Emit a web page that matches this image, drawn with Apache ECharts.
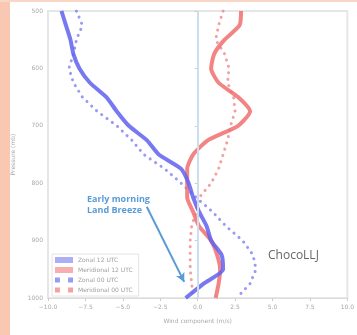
<!DOCTYPE html>
<html>
<head>
<meta charset="utf-8">
<script src="https://cdn.jsdelivr.net/npm/echarts@6/dist/echarts.min.js"></script>
<style>
  html, body { margin: 0; padding: 0; background: #ffffff; }
  #wrap { position: relative; width: 357px; height: 335px; background: #ffffff; overflow: hidden; }
  #edge { position: absolute; left: 0; top: 0; width: 10px; height: 335px; background: #f9c8b2; }
  #topedge { position: absolute; left: 0; top: 0; width: 357px; height: 2px; background: #f9d6c6; }
  #chart { position: absolute; left: 0; top: 0; width: 357px; height: 335px; }
</style>
</head>
<body>
<div id="wrap">
  <div id="edge"></div>
  <div id="topedge"></div>
  <div id="chart"></div>
</div>
<script>
// Pressure levels (hPa) for the wind profiles
const levels = [500, 525, 550, 575, 600, 625, 650, 675, 700, 725, 750, 775, 800, 825, 850, 875, 900, 925, 950, 975, 1000];

// Wind components (m/s) at each level
const zonal12 = [-9.1, -8.8, -8.5, -8.3, -7.9, -7.2, -6.1, -5.4, -4.6, -3.4, -2.6, -1.1, -0.6, -0.3, 0.1, 0.6, 0.9, 1.6, 1.7, 0.4, -0.8];
const merid12 = [2.9, 2.8, 1.8, 1.1, 0.9, 1.4, 2.7, 3.5, 2.7, 0.7, -0.3, -0.7, -0.7, -0.7, -0.3, 0.1, 0.9, 1.3, 1.5, 1.4, 1.2];
const zonal00 = [-8.1, -7.7, -8.1, -8.3, -8.6, -8.3, -7.7, -6.7, -5.4, -4.4, -3.6, -2.2, -1.1, -0.1, 1.0, 1.9, 3.0, 3.7, 3.9, 3.5, 2.6];
const merid00 = [1.7, 1.4, 1.2, 1.8, 2.1, 2.0, 2.4, 2.5, 2.2, 2.0, 1.7, 1.4, 0.9, 0.1, -0.1, -0.4, -0.5, -0.5, -0.5, -0.4, -0.3];

const seriesNames = ['Zonal 12 UTC', 'Meridional 12 UTC', 'Zonal 00 UTC', 'Meridional 00 UTC'];

// Axis ticks
const xTicks = { min: -10, max: 10, step: 2.5 };
const yTicks = { min: 500, max: 1000, step: 100 };

// Land-breeze arrow end points (wind, pressure)
const arrowFrom = [-3.4, 841];
const arrowTo = [-0.9, 972];

function pairs(values) {
  return values.map((v, i) => [v, levels[i]]);
}

const chart = echarts.init(document.getElementById('chart'), null, { renderer: 'canvas' });

const solidBlue = 'rgba(96, 96, 238, 0.85)';
const solidRed = 'rgba(240, 110, 110, 0.85)';
const dotBlue = 'rgba(120, 120, 240, 0.75)';
const dotRed = 'rgba(240, 120, 120, 0.7)';

// legend marker for the dotted profiles: two small dots
const twoDots = 'path://M0,0h3v3h-3zM8,0h3v3h-3z';

chart.setOption({
  animation: false,
  backgroundColor: 'transparent',
  grid: {
    left: 48, right: 7, top: 11, bottom: 37,
    show: true, borderColor: '#e6e6e6', borderWidth: 2, backgroundColor: '#ffffff'
  },
  legend: {
    orient: 'vertical',
    left: 52, top: 254,
    itemWidth: 18, itemHeight: 6, itemGap: 4,
    padding: [3, 6, 3, 3],
    backgroundColor: '#ffffff',
    borderColor: '#e4e4e4', borderWidth: 1,
    textStyle: { fontSize: 6, color: '#a0a0a0', fontFamily: 'DejaVu Sans' },
    data: [
      { name: seriesNames[0], icon: 'rect', itemStyle: { color: 'rgba(120,120,240,0.6)' } },
      { name: seriesNames[1], icon: 'rect', itemStyle: { color: 'rgba(240,120,120,0.6)' } },
      { name: seriesNames[2], icon: twoDots },
      { name: seriesNames[3], icon: twoDots }
    ]
  },
  xAxis: {
    type: 'value',
    min: xTicks.min, max: xTicks.max, interval: xTicks.step,
    name: 'Wind component (m/s)',
    nameLocation: 'middle', nameGap: 20,
    nameTextStyle: { fontSize: 6, color: '#aaaaaa', fontFamily: 'DejaVu Sans' },
    axisLine: { show: true, lineStyle: { color: '#dddddd', width: 1 } },
    axisTick: { show: true, length: 3, lineStyle: { color: '#cccccc' } },
    axisLabel: { fontSize: 6, color: '#a8a8a8', margin: 6, fontFamily: 'DejaVu Sans',
      formatter: v => (v < 0 ? '\u2212' : '') + Math.abs(v).toFixed(1) },
    splitLine: { show: false }
  },
  yAxis: {
    type: 'value',
    inverse: true,
    min: yTicks.min, max: yTicks.max, interval: yTicks.step,
    name: 'Pressure (mb)',
    nameLocation: 'middle', nameGap: 20, nameRotate: 90,
    nameTextStyle: { fontSize: 6, color: '#aaaaaa', fontFamily: 'DejaVu Sans' },
    axisLine: { show: true, lineStyle: { color: '#dddddd', width: 1 } },
    axisTick: { show: true, length: 3, lineStyle: { color: '#cccccc' } },
    axisLabel: { fontSize: 6, color: '#a8a8a8', margin: 5, fontFamily: 'DejaVu Sans',
      formatter: v => String(v) },
    splitLine: { show: false }
  },
  series: [
    {
      name: seriesNames[0], type: 'line', data: pairs(zonal12),
      symbol: 'none', z: 4, smooth: 0.2,
      lineStyle: { color: solidBlue, width: 4, join: 'round' },
      itemStyle: { color: solidBlue },
      markLine: {
        silent: true, symbol: 'none', label: { show: false },
        lineStyle: { color: '#cddfec', width: 2, type: 'solid' },
        data: [{ xAxis: 0 }]
      }
    },
    {
      name: seriesNames[1], type: 'line', data: pairs(merid12),
      symbol: 'none', z: 3, smooth: 0.2,
      lineStyle: { color: solidRed, width: 4, join: 'round' },
      itemStyle: { color: solidRed },
      markLine: {
        silent: true, symbol: ['none', 'arrow'], symbolSize: [7, 9],
        label: { show: false },
        lineStyle: { color: '#5a9bd6', width: 2, type: 'solid' },
        data: [[{ coord: arrowFrom }, { coord: arrowTo }]]
      }
    },
    {
      name: seriesNames[2], type: 'line', data: pairs(zonal00),
      symbol: 'none', z: 2,
      lineStyle: { color: dotBlue, width: 3, type: [0.1, 6.5], cap: 'round' },
      itemStyle: { color: dotBlue }
    },
    {
      name: seriesNames[3], type: 'line', data: pairs(merid00),
      symbol: 'none', z: 2,
      lineStyle: { color: dotRed, width: 3, type: [0.1, 6.5], cap: 'round' },
      itemStyle: { color: dotRed }
    }
  ],
  graphic: [
    {
      type: 'text', left: 87, top: 194, z: 10,
      style: {
        text: 'Early morning\nLand Breeze', fill: '#5a9bd6',
        font: 'bold 9px "Open Sans", "DejaVu Sans", sans-serif', lineHeight: 11
      }
    },
    {
      type: 'text', left: 268, top: 250, z: 10,
      style: { text: 'ChocoLLJ', fill: '#666666', font: '12px "Open Sans", "DejaVu Sans", sans-serif' }
    }
  ]
});
</script>
</body>
</html>
